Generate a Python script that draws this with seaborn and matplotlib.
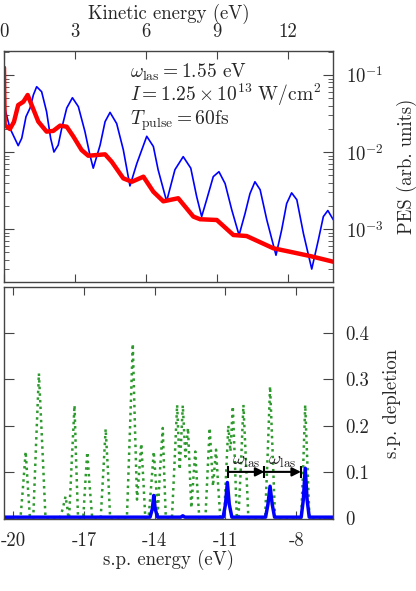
import numpy as np
import seaborn as sns
import matplotlib.pyplot as plt
from matplotlib.ticker import LogLocator, NullFormatter

# Data: photoelectron spectrum (top) vs kinetic energy
ke_red = [0.0, 0.01, 0.03, 0.25, 0.42, 0.60, 0.82, 1.00, 1.17, 1.45, 1.80, 2.08, 2.37, 2.65,
          2.93, 3.28, 3.56, 3.92, 4.27, 4.55, 5.04, 5.40, 5.89, 6.31, 6.73, 7.36, 8.00, 8.28,
          8.99, 9.69, 10.25, 11.38, 12.08, 12.93, 13.91]
pes_red = [0.1245, 0.0631, 0.0224, 0.0199, 0.0246, 0.0407, 0.0450, 0.0550, 0.0407, 0.0248,
           0.0184, 0.0188, 0.0220, 0.0213, 0.0159, 0.0106, 0.00895, 0.00914, 0.00933, 0.00748,
           0.00455, 0.00411, 0.00478, 0.00305, 0.00229, 0.00251, 0.00145, 0.00134, 0.00131,
           0.000836, 0.000811, 0.000562, 0.000507, 0.000446, 0.000376]

ke_blue = [0.00, 0.25, 0.60, 0.75, 0.93, 1.10, 1.24, 1.38, 1.59, 1.80, 1.97, 2.11, 2.29, 2.44,
           2.65, 2.89, 3.14, 3.42, 3.63, 3.77, 4.06, 4.27, 4.48, 4.76, 5.04, 5.32, 5.61, 6.03,
           6.31, 6.51, 6.87, 7.22, 7.57, 7.89, 8.14, 8.35, 8.56, 8.84, 9.08, 9.34, 9.62, 9.93,
           10.18, 10.39, 10.60, 10.82, 11.10, 11.49, 11.73, 11.94, 12.15, 12.37, 12.65, 13.00,
           13.28, 13.49, 13.68, 13.91]
pes_blue = [0.0407, 0.0204, 0.0121, 0.0151, 0.0288, 0.0372, 0.0550, 0.0705, 0.0607, 0.0333,
            0.0151, 0.0100, 0.0123, 0.0204, 0.0372, 0.0507, 0.0389, 0.0184, 0.00912, 0.00617,
            0.0123, 0.0248, 0.0327, 0.0234, 0.0107, 0.00363, 0.00708, 0.0160, 0.0118, 0.00589,
            0.00229, 0.00589, 0.00871, 0.00617, 0.00263, 0.00145, 0.00240, 0.00479, 0.00555,
            0.00389, 0.00178, 0.000832, 0.00158, 0.00288, 0.00411, 0.00324, 0.00132, 0.000457,
            0.000977, 0.00214, 0.00295, 0.00240, 0.000871, 0.000302, 0.000724, 0.00145,
            0.00174, 0.00132]

# Data: single-particle depletion (bottom) vs s.p. energy
sp_green = [-20.39, -19.69, -19.58, -19.47, -19.38, -19.29, -19.15, -19.03, -18.91, -18.77,
            -18.63, -18.02, -17.90, -17.78, -17.70, -17.66, -17.63, -17.52, -17.40, -17.33,
            -17.25, -17.03, -16.95, -16.86, -16.76, -16.65, -16.29, -16.18, -16.08, -15.98,
            -15.89, -15.18, -15.05, -14.93, -14.84, -14.75, -14.66, -14.57, -14.48, -14.40,
            -14.26, -14.15, -14.04, -13.94, -13.88, -13.78, -13.66, -13.60, -13.53, -13.27,
            -13.16, -13.05, -12.94, -12.81, -12.70, -12.59, -12.45, -12.37, -12.28, -12.20,
            -12.11, -11.85, -11.76, -11.67, -11.53, -11.40, -11.31, -11.22, -11.06, -10.97,
            -10.88, -10.79, -10.69, -10.60, -10.52, -10.45, -10.34, -10.24, -10.13, -10.03,
            -9.32, -9.21, -9.11, -9.00, -8.90, -7.79, -7.70, -7.62, -7.53, -7.44, -6.44]
dep_green = [0, 0, 0.07, 0.144, 0.07, 0, 0, 0.16, 0.313, 0.16,
             0, 0, 0.02, 0.047, 0.02, 0.0, 0, 0.12, 0.244, 0.12,
             0, 0, 0.07, 0.143, 0.07, 0, 0, 0.10, 0.193, 0.10,
             0, 0, 0.19, 0.377, 0.20, 0.04, 0.10, 0.161, 0.08, 0,
             0, 0.07, 0.144, 0.07, 0, 0.10, 0.195, 0.10, 0, 0,
             0.12, 0.245, 0.105, 0.244, 0.133, 0.195, 0.022, 0.08, 0.144, 0.07,
             0, 0, 0.10, 0.195, 0.069, 0.148, 0.07, 0, 0, 0.10,
             0.20, 0.144, 0.242, 0.12, 0, 0, 0.12, 0.245, 0.12, 0,
             0, 0.14, 0.285, 0.14, 0, 0, 0.12, 0.245, 0.12, 0, 0]

sp_blue = [-20.39, -14.20, -14.10, -14.04, -13.98, -13.88, -12.90, -12.81, -12.72, -11.10,
           -11.00, -10.92, -10.84, -10.73, -9.30, -9.20, -9.11, -9.02, -8.92, -7.79,
           -7.70, -7.62, -7.54, -7.45, -6.44]
dep_blue = [0.002, 0.002, 0.02, 0.049, 0.02, 0.002, 0.002, 0.005, 0.002, 0.002,
            0.03, 0.077, 0.03, 0.002, 0.002, 0.03, 0.069, 0.03, 0.002, 0.002,
            0.04, 0.108, 0.04, 0.002, 0.002]

ke_ticks = [0, 3, 6, 9, 12]
sp_ticks = [-20, -17, -14, -11, -8]
pes_ticks = [1e-3, 1e-2, 1e-1]
pes_labels = [r'$10^{-3}$', r'$10^{-2}$', r'$10^{-1}$']
dep_ticks = [0, 0.1, 0.2, 0.3, 0.4]
dep_labels = ['0', '0.1', '0.2', '0.3', '0.4']
arrow_x = [-10.9, -9.35, -7.8]
arrow_y = 0.1

sns.set_style('ticks')
plt.rcParams['font.family'] = ['cmr10', 'DejaVu Serif']
plt.rcParams['mathtext.fontset'] = 'cm'
plt.rcParams['axes.unicode_minus'] = False
plt.rcParams['axes.formatter.use_mathtext'] = True
fs = 13.5
edge = '#444444'

fig = plt.figure(figsize=(4.16, 5.91), dpi=100)
ax1 = fig.add_axes([0.0096, 0.5228, 0.791, 0.3909])
ax2 = fig.add_axes([0.0096, 0.121, 0.791, 0.3934])

# Top panel
sns.lineplot(x=ke_blue, y=pes_blue, ax=ax1, color='#0000ff', lw=1.2, sort=False, estimator=None)
sns.lineplot(x=ke_red, y=pes_red, ax=ax1, color='#ff0000', lw=3.2, sort=False, estimator=None)
ax1.set_yscale('log')
ax1.set_xlim(0, 13.9)
ax1.set_ylim(2.05e-4, 0.205)
ax1.set_xticks(ke_ticks)
ax1.set_xticklabels([str(t) for t in ke_ticks])
ax1.set_yticks(pes_ticks)
ax1.set_yticklabels(pes_labels)
ax1.yaxis.set_minor_locator(LogLocator(base=10, subs=np.arange(2, 10)))
ax1.yaxis.set_minor_formatter(NullFormatter())
ax1.xaxis.set_label_position('top')
ax1.set_xlabel('Kinetic energy (eV)', fontsize=fs)
ax1.xaxis.set_label_coords(0.5, 1.14)
ax1.yaxis.set_label_position('right')
ax1.set_ylabel('PES (arb. units)', fontsize=fs, labelpad=10)
ax1.tick_params(axis='x', which='both', top=True, bottom=True, labeltop=True,
                labelbottom=False, direction='in', length=6, pad=7, labelsize=fs)
ax1.tick_params(axis='y', which='both', left=True, right=True, labelleft=False,
                labelright=True, direction='in', pad=9, labelsize=fs)
ax1.tick_params(axis='y', which='major', length=7)
ax1.tick_params(axis='y', which='minor', length=3.5)

ax1.text(0.383, 0.885, r'$\omega_{\rm las} = 1.55$ eV', transform=ax1.transAxes,
         fontsize=fs + 0.5, va='baseline')
ax1.text(0.383, 0.782, r'$I = 1.25\times 10^{13}\ \mathrm{W/cm^2}$', transform=ax1.transAxes,
         fontsize=fs + 0.5, va='baseline')
ax1.text(0.383, 0.682, r'$T_{\rm pulse} = 60$fs', transform=ax1.transAxes,
         fontsize=fs + 0.5, va='baseline')

# Bottom panel
sns.lineplot(x=sp_green, y=dep_green, ax=ax2, color='#2e9a2e', lw=1.8, ls=':', sort=False,
             estimator=None)
sns.lineplot(x=sp_blue, y=dep_blue, ax=ax2, color='#0000ff', lw=2.5, sort=False, estimator=None)
ax2.set_xlim(-20.39, -6.44)
ax2.set_ylim(-0.003, 0.5)
ax2.set_xticks(sp_ticks)
ax2.set_xticklabels([str(t) for t in sp_ticks])
ax2.set_yticks(dep_ticks)
ax2.set_yticklabels(dep_labels)
ax2.set_xlabel('s.p. energy (eV)', fontsize=fs, labelpad=0)
ax2.yaxis.set_label_position('right')
ax2.set_ylabel('s.p. depletion', fontsize=fs, labelpad=10)
ax2.tick_params(axis='x', top=True, bottom=True, labeltop=False, labelbottom=True,
                direction='in', length=6, pad=9, labelsize=fs)
ax2.tick_params(axis='y', left=True, right=True, labelleft=False, labelright=True,
                direction='in', length=7, pad=9, labelsize=fs)

# omega_las arrows
for x0, x1 in zip(arrow_x[:-1], arrow_x[1:]):
    ax2.annotate('', xy=(x1, arrow_y), xytext=(x0, arrow_y),
                 arrowprops=dict(arrowstyle='-|>', color='black', lw=1.5,
                                 shrinkA=0, shrinkB=0, mutation_scale=13))
    ax2.text((x0 + x1) / 2, arrow_y + 0.003, r'$\omega_{\rm las}$', fontsize=fs,
             ha='center', va='bottom', color='#222222')
ax2.plot(arrow_x, [arrow_y] * len(arrow_x), ls='none', marker='|', ms=9, mew=1.5,
         color='black')

for ax in (ax1, ax2):
    for s in ax.spines.values():
        s.set_visible(True)
        s.set_color(edge)
        s.set_linewidth(1.0)
    ax.tick_params(which='both', color=edge)

fig.savefig('out.png', dpi=100)
